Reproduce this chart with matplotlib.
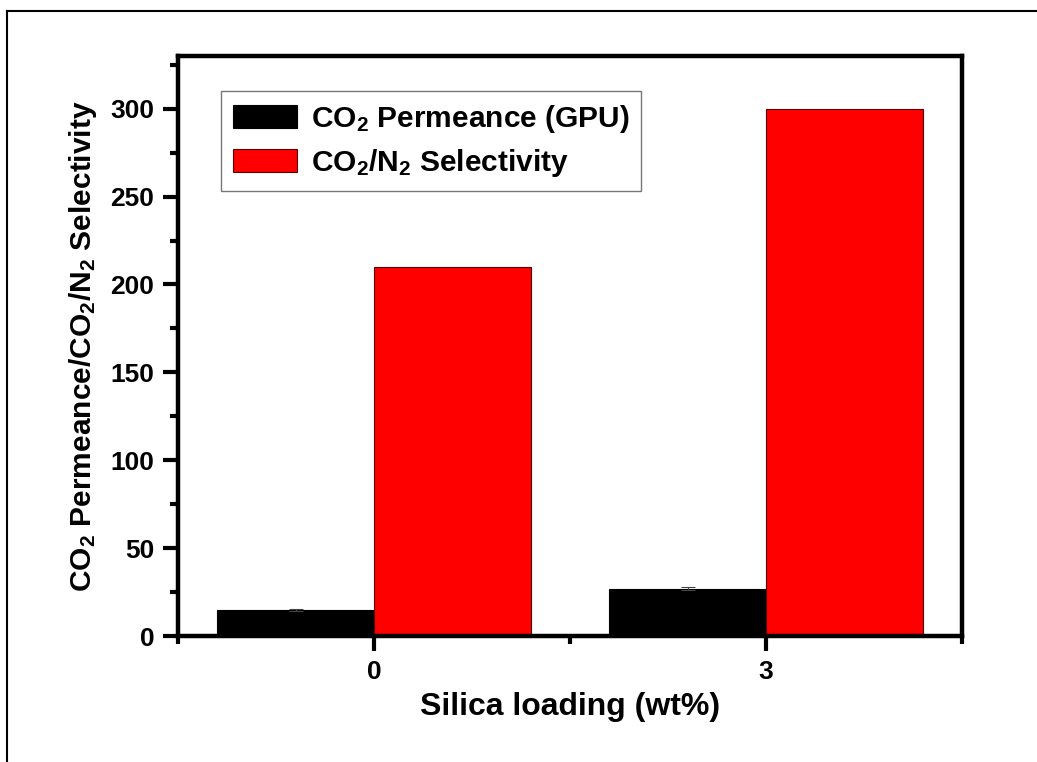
import matplotlib.pyplot as plt
from matplotlib.lines import Line2D
from matplotlib.ticker import MultipleLocator, FixedLocator

# Datos
loading = ['0', '3']
permeance = [15, 27]
permeance_err = [0.6, 1.1]
selectivity = [210, 300]

plt.rcParams['font.family'] = 'Liberation Sans'
plt.rcParams['font.weight'] = 'bold'
plt.rcParams['mathtext.fontset'] = 'custom'
plt.rcParams['mathtext.bf'] = 'Liberation Sans:bold'
plt.rcParams['mathtext.rm'] = 'Liberation Sans:bold'
plt.rcParams['mathtext.default'] = 'bf'

fig = plt.figure(figsize=(10.37, 7.62), dpi=100)
ax = fig.add_axes([178 / 1037, 1 - 636 / 762, (962 - 178) / 1037, (636 - 56) / 762])

x = [1, 2]
w = 0.4
ax.bar([p - w / 2 for p in x], permeance, w, color='black', edgecolor='black', linewidth=0.8,
       yerr=permeance_err, error_kw=dict(ecolor='#444444', elinewidth=0.8, capsize=5, capthick=0.8),
       label='CO$_2$ Permeance (GPU)')
ax.bar([p + w / 2 for p in x], selectivity, w, color='#ff0000', edgecolor='#5a0000', linewidth=0.8,
       label='CO$_2$/N$_2$ Selectivity')

ax.set_xlim(0.5, 2.5)
ax.set_ylim(0, 330)
ax.xaxis.set_major_locator(FixedLocator(x))
ax.set_xticklabels(loading)
ax.xaxis.set_minor_locator(FixedLocator([0.5, 1.5, 2.5]))
ax.yaxis.set_major_locator(MultipleLocator(50))
ax.yaxis.set_minor_locator(MultipleLocator(25))

for s in ax.spines.values():
    s.set_linewidth(3.2)
ax.tick_params(which='major', direction='out', length=11, width=3, labelsize=19, pad=6)
ax.tick_params(which='minor', direction='out', length=6, width=3)
ax.tick_params(top=False, right=False, which='both')

ax.set_xlabel('Silica loading (wt%)', fontsize=23, fontweight='bold', labelpad=6)
ax.set_ylabel('CO$_2$ Permeance/CO$_2$/N$_2$ Selectivity', fontsize=21.5, fontweight='bold', labelpad=8)

leg = ax.legend(loc='upper left', bbox_to_anchor=(0.055, 0.94), fontsize=21.5, frameon=True,
                fancybox=False, handlelength=2.15, handleheight=0.84, handletextpad=0.45,
                labelspacing=0.4, borderpad=0.4, borderaxespad=0)
leg.get_frame().set_edgecolor('#555555')
leg.get_frame().set_linewidth(1.0)

# Marco exterior (solo arriba e izquierda visibles)
fig.add_artist(Line2D([7 / 1037, 7 / 1037], [0, 1 - 11 / 762], color='black', lw=1.5))
fig.add_artist(Line2D([7 / 1037, 1], [1 - 11 / 762, 1 - 11 / 762], color='black', lw=1.5))

fig.savefig('out.png', dpi=100)
plt.close()
